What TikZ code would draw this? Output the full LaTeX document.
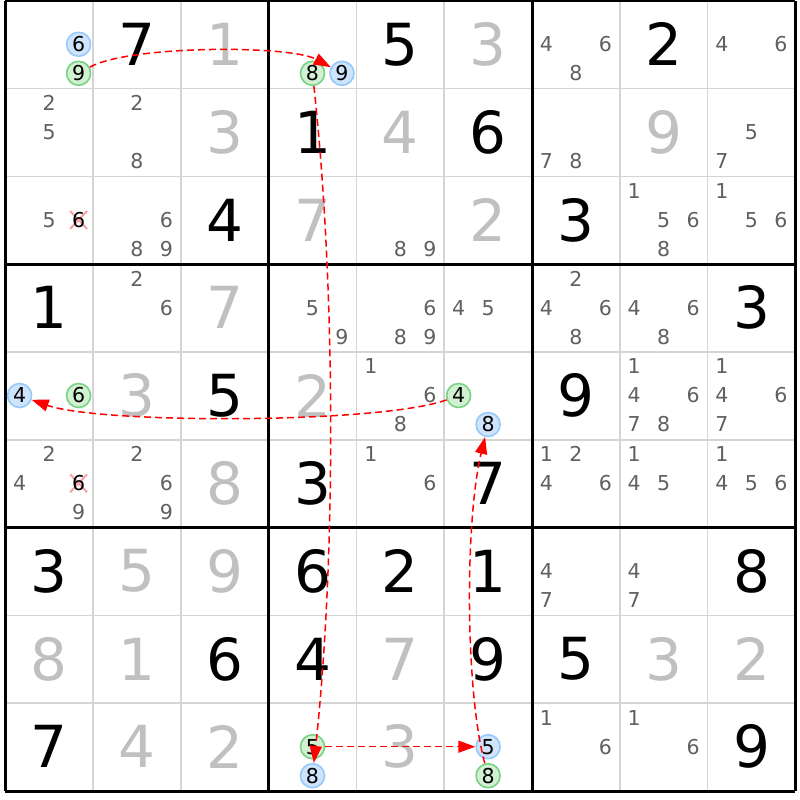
\documentclass[tikz,border=0pt]{standalone}
\usepackage{fontspec}
\setmainfont{DejaVu Sans}
\usetikzlibrary{arrows.meta}
\definecolor{solvedc}{RGB}{192,192,192}
\definecolor{candc}{RGB}{96,96,96}
\definecolor{thinc}{RGB}{212,212,212}
\definecolor{bluefill}{RGB}{206,228,252}
\definecolor{blueline}{RGB}{150,200,250}
\definecolor{greenfill}{RGB}{210,240,210}
\definecolor{greenline}{RGB}{120,210,130}
\definecolor{elimc}{RGB}{248,160,165}
\newcommand\SDbig[4]{\node[#4] (b#1#2) at ({5.2+87.8*#2+43.9},{0.8+87.8*#1+43.5}) {#3};}
\newcommand\SDcand[3]{\foreach \k in {#3}{%
  \pgfmathsetmacro\px{5.2+87.8*#2+43.9+29.5*(mod(\k-1,3)-1)}%
  \pgfmathsetmacro\py{0.8+87.8*#1+43.5+29*(int((\k-1)/3)-1)}%
  \node[cand] (c#1#2n\k) at (\px,\py) {\k};}}
\newcommand\SDhl[5]{%
  \pgfmathsetmacro\px{5.2+87.8*#3+43.9+29.5*(mod(#4-1,3)-1)}%
  \pgfmathsetmacro\py{0.8+87.8*#2+43.5+29*(int((#4-1)/3)-1)}%
  \node[#5] (#1) at (\px,\py) {#4};}
\newcommand\SDelim[3]{%
  \pgfmathsetmacro\px{5.2+87.8*#2+43.9+29.5*(mod(#3-1,3)-1)}%
  \pgfmathsetmacro\py{0.8+87.8*#1+43.5+29*(int((#3-1)/3)-1)}%
  \draw[elimmark] (\px-8.5,\py-9) -- (\px+8.5,\py+9) (\px-8.5,\py+9) -- (\px+8.5,\py-9);
  \node[cand,text=black] (e#1#2n#3) at (\px,\py) {#3};}
\begin{document}
\begin{tikzpicture}[x=1pt,y=-1pt,
  given/.style={font=\fontsize{58}{60}\selectfont, text=black, inner sep=0pt},
  solved/.style={given, text=solvedc},
  cand/.style={font=\fontsize{20.5}{22}\selectfont, text=candc, inner sep=0pt},
  hlblue/.style={circle, draw=blueline, fill=bluefill, line width=1.6pt, minimum size=24pt, inner sep=0pt, font=\fontsize{20.5}{22}\selectfont, text=black},
  hlgreen/.style={hlblue, draw=greenline, fill=greenfill},
  elimmark/.style={elimc, line width=2pt},
  chain/.style={red, line width=1.5pt, dash pattern=on 7pt off 4pt, -{Triangle[length=17pt,width=12pt]}},
  gridthin/.style={thinc, line width=1.6pt},
  gridthick/.style={black, line width=3pt}]
\useasboundingbox (0,0) rectangle (800,800);
\fill[white] (0,0) rectangle (800,800);
% grid
\foreach \i in {1,2,4,5,7,8}{
  \draw[gridthin] ({5.2+87.8*\i},0.8) -- ({5.2+87.8*\i},791);
  \draw[gridthin] (5.2,{0.8+87.8*\i}) -- (795.4,{0.8+87.8*\i});
}
\foreach \i in {0,3,6,9}{
  \draw[gridthick] ({5.2+87.8*\i},0.8) -- ({5.2+87.8*\i},791);
  \draw[gridthick] (5.2,{0.8+87.8*\i}) -- (795.4,{0.8+87.8*\i});
}
% given digits
\foreach \r/\c/\d in {0/1/7,0/4/5,0/7/2,1/3/1,1/5/6,2/2/4,2/6/3,3/0/1,3/8/3,4/2/5,4/6/9,5/3/3,5/5/7,
  6/0/3,6/3/6,6/4/2,6/5/1,6/8/8,7/2/6,7/3/4,7/5/9,7/6/5,8/0/7,8/8/9}
  {\SDbig{\r}{\c}{\d}{given}}
% solved digits
\foreach \r/\c/\d in {0/2/1,0/5/3,1/2/3,1/4/4,1/7/9,2/3/7,2/5/2,3/2/7,4/1/3,4/3/2,5/2/8,
  6/1/5,6/2/9,7/0/8,7/1/1,7/4/7,7/7/3,7/8/2,8/1/4,8/2/2,8/4/3}
  {\SDbig{\r}{\c}{\d}{solved}}
% candidates
\SDcand{0}{6}{4,6,8}
\SDcand{0}{8}{4,6}
\SDcand{1}{0}{2,5}
\SDcand{1}{1}{2,8}
\SDcand{1}{6}{7,8}
\SDcand{1}{8}{5,7}
\SDcand{2}{0}{5}
\SDcand{2}{1}{6,8,9}
\SDcand{2}{4}{8,9}
\SDcand{2}{7}{1,5,6,8}
\SDcand{2}{8}{1,5,6}
\SDcand{3}{1}{2,6}
\SDcand{3}{3}{5,9}
\SDcand{3}{4}{6,8,9}
\SDcand{3}{5}{4,5}
\SDcand{3}{6}{2,4,6,8}
\SDcand{3}{7}{4,6,8}
\SDcand{4}{4}{1,6,8}
\SDcand{4}{7}{1,4,6,7,8}
\SDcand{4}{8}{1,4,6,7}
\SDcand{5}{0}{2,4,9}
\SDcand{5}{1}{2,6,9}
\SDcand{5}{4}{1,6}
\SDcand{5}{6}{1,2,4,6}
\SDcand{5}{7}{1,4,5}
\SDcand{5}{8}{1,4,5,6}
\SDcand{6}{6}{4,7}
\SDcand{6}{7}{4,7}
\SDcand{8}{6}{1,6}
\SDcand{8}{7}{1,6}
% eliminations
\SDelim{2}{0}{6}
\SDelim{5}{0}{6}
% highlighted candidates
\SDhl{hA}{0}{0}{6}{hlblue}
\SDhl{hB}{0}{0}{9}{hlgreen}
\SDhl{hC}{0}{3}{8}{hlgreen}
\SDhl{hD}{0}{3}{9}{hlblue}
\SDhl{hE}{4}{0}{4}{hlblue}
\SDhl{hF}{4}{0}{6}{hlgreen}
\SDhl{hG}{4}{5}{4}{hlgreen}
\SDhl{hH}{4}{5}{8}{hlblue}
\SDhl{hI}{8}{3}{5}{hlgreen}
\SDhl{hJ}{8}{3}{8}{hlblue}
\SDhl{hK}{8}{5}{5}{hlblue}
\SDhl{hL}{8}{5}{8}{hlgreen}
% chain
\draw[chain] (hB) .. controls (130,45) and (290,45) .. (hD);
\draw[chain] (hC) .. controls (336,290) and (336,560) .. (hJ);
\draw[chain] (hI) -- (hK);
\draw[chain] (hL) .. controls (465,690) and (465,520) .. (hH);
\draw[chain] (hG) .. controls (380,424) and (100,424) .. (hE);
\end{tikzpicture}
\end{document}
